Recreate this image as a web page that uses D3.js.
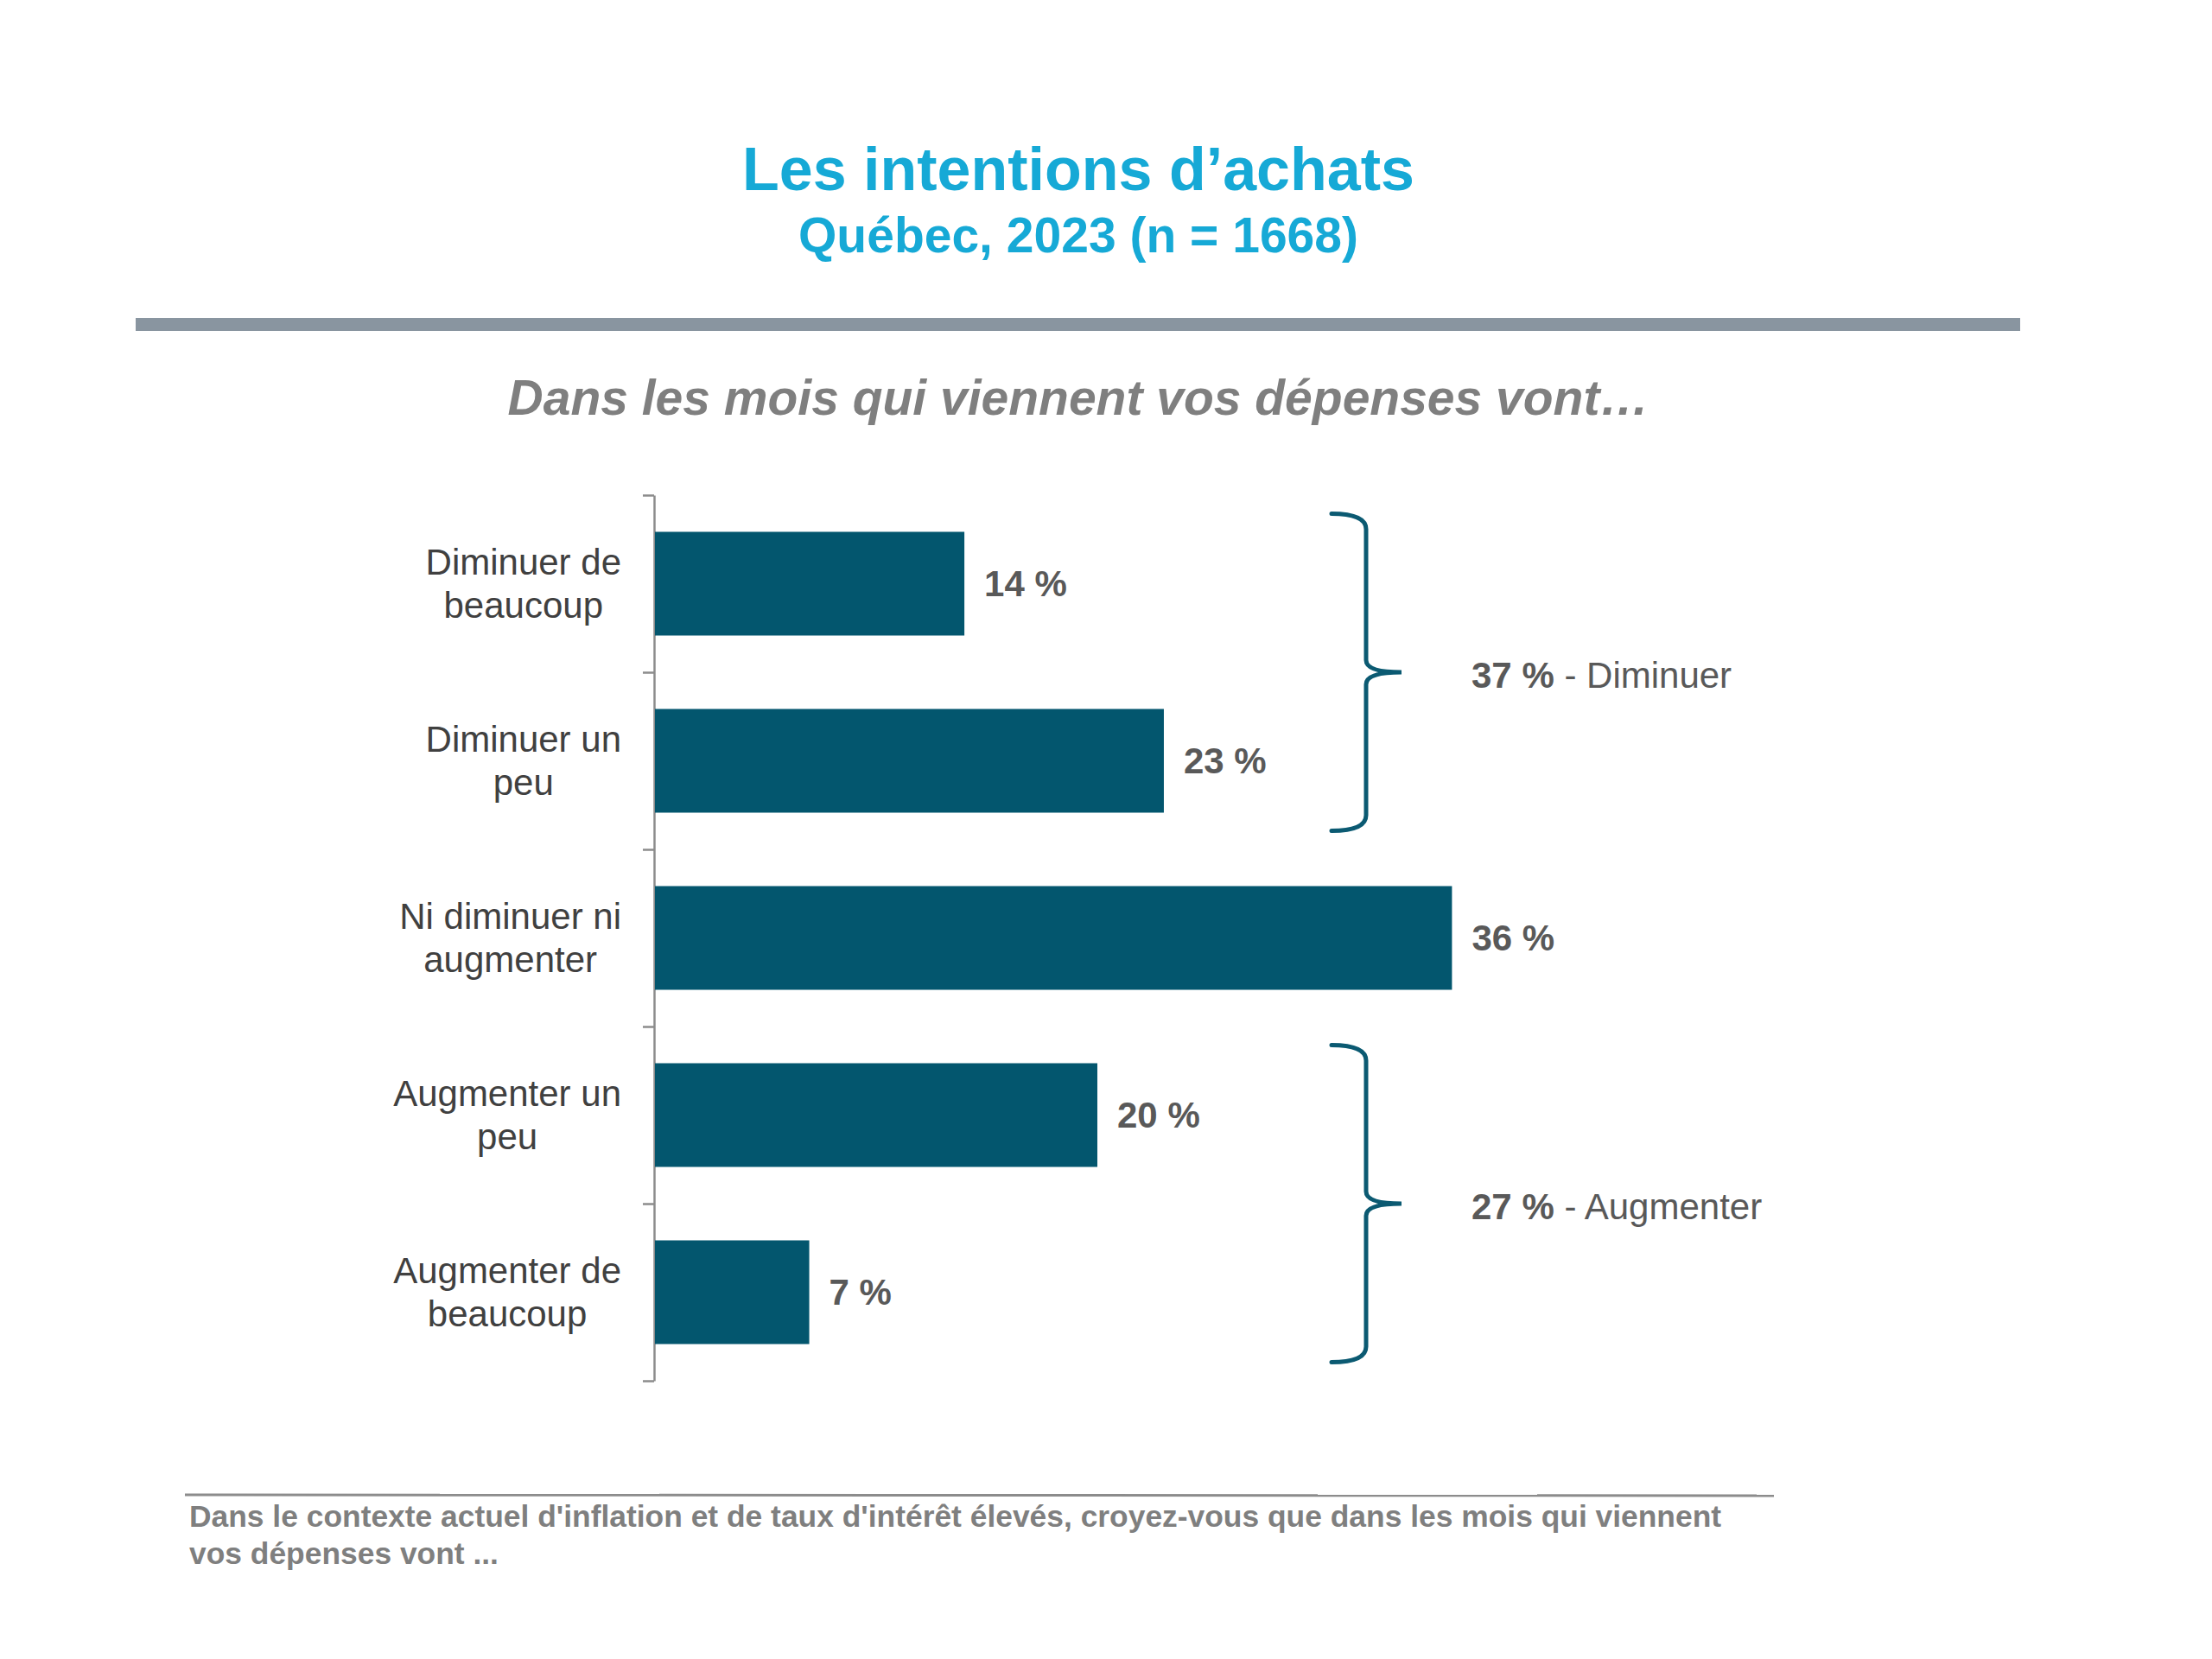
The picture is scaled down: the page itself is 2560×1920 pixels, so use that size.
<!DOCTYPE html>
<html>
<head>
<meta charset="utf-8">
<script src="https://cdn.jsdelivr.net/npm/d3@7"></script>
<style>
  html, body { margin: 0; padding: 0; background: #ffffff; }
  svg { display: block; font-family: "Liberation Sans", Arimo, Arial, sans-serif; }
</style>
</head>
<body>
<svg id="chart" width="2560" height="1920"></svg>
<script>
// ---- Data ----
const categories = [
  ["Diminuer de", "beaucoup"],
  ["Diminuer un", "peu"],
  ["Ni diminuer ni", "augmenter"],
  ["Augmenter un", "peu"],
  ["Augmenter de", "beaucoup"]
];
const values = [14, 23, 36, 20, 7];
const groupLabels = ["Diminuer", "Augmenter"];
const groupValues = [37, 27];
const groupFrom = [0, 3];
const groupTo = [1, 4];
const titleText = "Les intentions d’achats";
const subtitleText = "Québec, 2023 (n = 1668)";
const questionText = "Dans les mois qui viennent vos dépenses vont…";
const footnoteLines = [
  "Dans le contexte actuel d'inflation et de taux d'intérêt élevés, croyez-vous que dans les mois qui viennent",
  "vos dépenses vont ..."
];

// ---- Layout ----
const svg = d3.select("#chart");
const cx = 1248;
const axisX = 757;
const yTop = 573, yBottom = 1598;
const barColor = "#03566e";
const keys = categories.map((c, i) => i);

const y = d3.scaleBand().domain(keys).range([yTop, yBottom]).paddingInner(0.4146).paddingOuter(0.2073);
const x = d3.scaleLinear().domain([0, 40]).range([axisX, axisX + 1026]);

// Titles
svg.append("text").attr("x", cx).attr("y", 220).attr("text-anchor", "middle")
  .attr("font-size", 70).attr("font-weight", "bold").attr("fill", "#16a9d6").text(titleText);
svg.append("text").attr("x", cx).attr("y", 292).attr("text-anchor", "middle")
  .attr("font-size", 57).attr("font-weight", "bold").attr("fill", "#16a9d6").text(subtitleText);

// Gray rule
svg.append("rect").attr("x", 157).attr("y", 368).attr("width", 2181).attr("height", 15).attr("fill", "#8995a0");

// Question
svg.append("text").attr("x", cx).attr("y", 480).attr("text-anchor", "middle")
  .attr("font-size", 57).attr("font-weight", "bold").attr("font-style", "italic")
  .attr("fill", "#7f7f7f").text(questionText);

// Axis with ticks at band boundaries
const yb = d3.scaleLinear().domain([0, categories.length]).range([yTop, yBottom]);
const axisG = svg.append("g").attr("transform", `translate(${axisX},0)`)
  .call(d3.axisLeft(yb).tickValues(d3.range(categories.length + 1)).tickFormat("").tickSize(13).tickSizeOuter(0));
axisG.selectAll("path, line").attr("stroke", "#8c8c8c").attr("stroke-width", 2.5);

// Bars
svg.append("g").selectAll("rect").data(values).join("rect")
  .attr("x", x(0) + 1)
  .attr("y", (d, i) => y(i))
  .attr("width", d => x(d) - x(0) - 1)
  .attr("height", y.bandwidth())
  .attr("fill", barColor);

// Value labels
svg.append("g").selectAll("text").data(values).join("text")
  .attr("x", d => x(d) + 23)
  .attr("y", (d, i) => y(i) + y.bandwidth() / 2)
  .attr("dy", "0.35em")
  .attr("font-size", 42).attr("font-weight", "bold").attr("fill", "#595959")
  .text(d => d + " %");

// Category labels: block right-aligned, lines centered
const labelRight = 719;
categories.forEach((lines, i) => {
  const g = svg.append("g");
  const cy = y(i) + y.bandwidth() / 2;
  const texts = lines.map((ln, j) => g.append("text")
    .attr("y", cy + (j - (lines.length - 1) / 2) * 50)
    .attr("dy", "0.35em")
    .attr("text-anchor", "middle")
    .attr("font-size", 42).attr("fill", "#404040").text(ln));
  const maxW = d3.max(texts, t => t.node().getComputedTextLength());
  texts.forEach(t => t.attr("x", labelRight - maxW / 2));
});

// Braces
const braceX = 1581, braceLeft = 1541, braceTip = 1622;
groupLabels.forEach((lab, k) => {
  const top = y(groupFrom[k]) - 21;
  const bot = y(groupTo[k]) + y.bandwidth() + 21;
  const mid = (top + bot) / 2;
  const p = d3.path();
  p.moveTo(braceLeft, top);
  p.quadraticCurveTo(braceX, top, braceX, top + 18);
  p.lineTo(braceX, mid - 14);
  p.quadraticCurveTo(braceX, mid, braceTip, mid);
  p.quadraticCurveTo(braceX, mid, braceX, mid + 14);
  p.lineTo(braceX, bot - 18);
  p.quadraticCurveTo(braceX, bot, braceLeft, bot);
  svg.append("path").attr("d", p.toString()).attr("fill", "none")
    .attr("stroke", "#0b5a72").attr("stroke-width", 5).attr("stroke-linecap", "round");
  const t = svg.append("text").attr("x", 1703).attr("y", mid + 3).attr("dy", "0.35em")
    .attr("font-size", 42).attr("fill", "#595959");
  t.append("tspan").attr("font-weight", "bold").text(groupValues[k] + " %");
  t.append("tspan").text(" - " + lab);
});

// Footnote
svg.append("line").attr("x1", 214).attr("x2", 2053).attr("y1", 1730).attr("y2", 1731)
  .attr("stroke", "#8c8c8c").attr("stroke-width", 3);
footnoteLines.forEach((ln, i) => {
  svg.append("text").attr("x", 219).attr("y", 1767 + i * 43)
    .attr("font-size", 35.4).attr("font-weight", "bold").attr("fill", "#7f7f7f").text(ln);
});
</script>
</body>
</html>
